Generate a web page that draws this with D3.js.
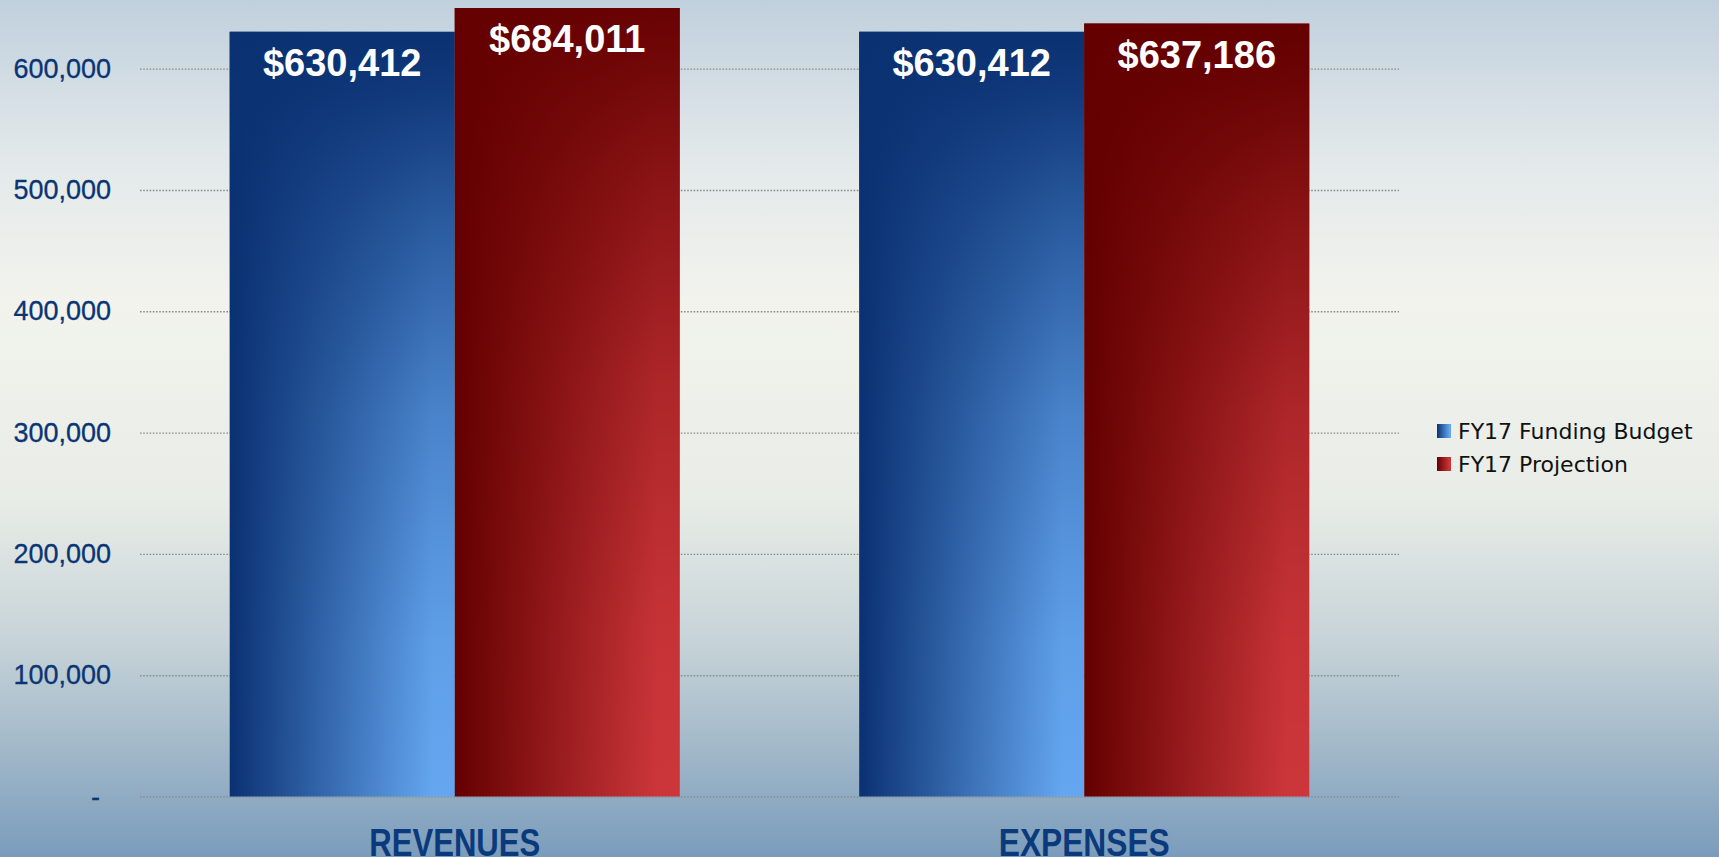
<!DOCTYPE html>
<html>
<head>
<meta charset="utf-8">
<script src="https://cdn.jsdelivr.net/npm/d3@7"></script>
<style>
  html, body { margin: 0; padding: 0; overflow: hidden; }
  svg { display: block; }
</style>
</head>
<body>
<div id="chart"></div>
<script>
// data
const categories = ['REVENUES', 'EXPENSES'];
const seriesNames = ['FY17 Funding Budget', 'FY17 Projection'];
const budgetValues = [630412, 630412];
const projectionValues = [684011, 637186];
const yTicks = [0, 100000, 200000, 300000, 400000, 500000, 600000];
const yMax = 650000; // axis max fixed, taller bars get clipped

const width = 1719, height = 857;
const margin = {left: 140, right: 320, top: 8, bottom: 60};

const svg = d3.select('#chart').append('svg')
  .attr('width', width)
  .attr('height', height);

const defs = svg.append('defs');

// page background
const bg = defs.append('linearGradient')
  .attr('id', 'bg').attr('x1', 0).attr('y1', 0).attr('x2', 0).attr('y2', 1);
[[0, '#c0d0dd'], [0.18, '#e2e8ea'], [0.35, '#f2f3ed'], [0.58, '#e9ede7'],
 [0.75, '#c6d3d8'], [0.87, '#a3b9c9'], [1, '#7a9cbc']].forEach(s => {
  bg.append('stop').attr('offset', s[0]).attr('stop-color', s[1]);
});

svg.append('rect')
  .attr('width', width).attr('height', height)
  .attr('fill', 'url(#bg)');

// bar fills: horizontal dark -> light, plus dark overlay fading down
const fills = [
  {id: 'blue', dark: '#0a3172', light: '#64a6f0'},
  {id: 'red', dark: '#640000', light: '#cc363a'}
];
fills.forEach(f => {
  const g = defs.append('linearGradient')
    .attr('id', f.id + 'H').attr('x1', 0).attr('y1', 0).attr('x2', 1).attr('y2', 0);
  g.append('stop').attr('offset', 0).attr('stop-color', f.dark);
  g.append('stop').attr('offset', 0.9).attr('stop-color', f.light);
  g.append('stop').attr('offset', 1).attr('stop-color', f.light);

  const o = defs.append('linearGradient')
    .attr('id', f.id + 'V').attr('x1', 0).attr('y1', 0).attr('x2', 0).attr('y2', 1);
  [[0, 1], [0.08, 0.92], [0.25, 0.64], [0.5, 0.3], [0.8, 0.06], [1, 0]].forEach(s => {
    o.append('stop').attr('offset', s[0]).attr('stop-color', f.dark).attr('stop-opacity', s[1]);
  });
});

const x0 = d3.scaleBand()
  .domain(categories)
  .range([margin.left, width - margin.right])
  .paddingInner(0.285)
  .paddingOuter(0.1425);

const x1 = d3.scaleBand()
  .domain(seriesNames)
  .range([0, x0.bandwidth()]);

const y = d3.scaleLinear()
  .domain([0, yMax])
  .range([796.5, margin.top]);

// gridlines
const grid = svg.append('g')
  .attr('transform', 'translate(' + margin.left + ',0)')
  .call(d3.axisLeft(y).tickValues(yTicks).tickSize(-(width - margin.right - margin.left)).tickFormat(''));
grid.select('.domain').remove();
grid.selectAll('line')
  .attr('stroke', '#8c8c8c')
  .attr('stroke-width', 1.4)
  .attr('stroke-dasharray', '1.6,1.6');

// y labels
const yAxis = svg.append('g')
  .attr('transform', 'translate(111,0)')
  .call(d3.axisLeft(y).tickValues(yTicks).tickSize(0).tickPadding(0)
    .tickFormat(d => d === 0 ? '-' : d3.format(',')(d)));
yAxis.select('.domain').remove();
yAxis.selectAll('text')
  .style('font-family', '"Liberation Sans", Arial, sans-serif')
  .style('font-size', '27px')
  .attr('fill', '#0a3575')
  .attr('stroke', '#0a3575')
  .attr('stroke-width', 0.3)
  .attr('dx', d => d === 0 ? -11 : 0);

// bars
defs.append('clipPath').attr('id', 'plotClip')
  .append('rect')
  .attr('x', 0).attr('y', y(yMax))
  .attr('width', width).attr('height', height);

const rows = categories.map((c, i) => ({
  cat: c,
  vals: [
    {series: seriesNames[0], value: budgetValues[i], fill: 'blue'},
    {series: seriesNames[1], value: projectionValues[i], fill: 'red'}
  ]
}));

const groups = svg.append('g')
  .attr('clip-path', 'url(#plotClip)')
  .selectAll('g')
  .data(rows)
  .enter()
  .append('g')
  .attr('transform', d => 'translate(' + x0(d.cat) + ',0)');

const bar = groups.selectAll('g')
  .data(d => d.vals)
  .enter()
  .append('g');

bar.append('rect')
  .attr('x', d => x1(d.series))
  .attr('y', d => y(d.value))
  .attr('width', x1.bandwidth())
  .attr('height', d => y(0) - y(d.value))
  .attr('fill', d => 'url(#' + d.fill + 'H)');

bar.append('rect')
  .attr('x', d => x1(d.series))
  .attr('y', d => y(d.value))
  .attr('width', x1.bandwidth())
  .attr('height', d => y(0) - y(d.value))
  .attr('fill', d => 'url(#' + d.fill + 'V)');

// value labels, inside end
bar.append('text')
  .attr('x', d => x1(d.series) + x1.bandwidth() / 2)
  .attr('y', d => Math.max(y(d.value), y(yMax)) + 44)
  .attr('text-anchor', 'middle')
  .style('font-family', '"Liberation Sans", Arial, sans-serif')
  .style('font-weight', 'bold')
  .style('font-size', '38px')
  .attr('fill', '#ffffff')
  .text(d => '$' + d3.format(',')(d.value));

// category labels
svg.append('g')
  .selectAll('text')
  .data(categories)
  .enter()
  .append('text')
  .attr('x', d => x0(d) + x0.bandwidth() / 2)
  .attr('y', 856)
  .attr('text-anchor', 'middle')
  .attr('textLength', 171)
  .attr('lengthAdjust', 'spacingAndGlyphs')
  .style('font-family', '"Liberation Sans", Arial, sans-serif')
  .style('font-weight', 'bold')
  .style('font-size', '39px')
  .attr('fill', '#0b3a7c')
  .text(d => d);

// legend
const legend = svg.append('g')
  .attr('transform', 'translate(1437,424)');

const item = legend.selectAll('g')
  .data(seriesNames)
  .enter()
  .append('g')
  .attr('transform', (d, i) => 'translate(0,' + (i * 33) + ')');

item.append('rect')
  .attr('width', 14).attr('height', 14)
  .attr('fill', (d, i) => 'url(#' + fills[i].id + 'H)');

item.append('text')
  .attr('x', 21)
  .attr('y', 15)
  .style('font-family', '"DejaVu Sans", sans-serif')
  .style('font-size', '22px')
  .attr('fill', '#111111')
  .text(d => d);
</script>
</body>
</html>
